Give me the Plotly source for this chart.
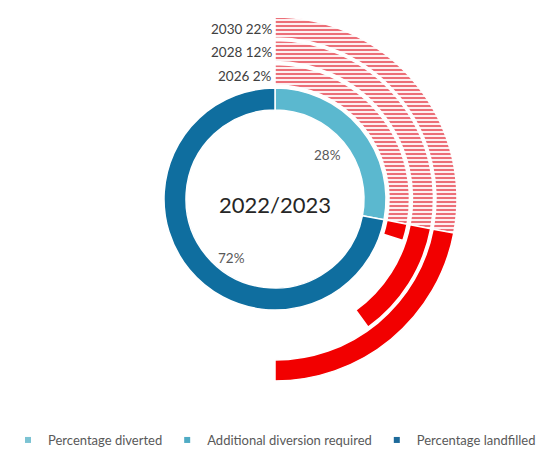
import plotly.graph_objects as go

# Diversion data (percent of waste)
base_year = "2022/2023"
pct_diverted = 28
pct_landfilled = 72
target_years = ["2026", "2028", "2030"]
additional_required = [2, 12, 22]
legend_labels = ["Percentage diverted", "Additional diversion required", "Percentage landfilled"]

W, H = 549, 456
CX, CY = 275, 199  # doughnut centre in px
# (inner, outer) radius in px for the base ring and each target ring
rings = [(89, 111), (114, 134.5), (137.5, 158.5), (161, 182)]

C_DIVERTED = "#5bb8cf"
C_LANDFILL = "#0f6e9f"
C_RED = "#f20000"
TXT = "#595959"
FONT = "Lato"


def domain_for(r_out):
    return dict(
        x=[(CX - r_out) / W, (CX + r_out) / W],
        y=[1 - (CY + r_out) / H, 1 - (CY - r_out) / H],
    )


fig = go.Figure()

# base year ring
r_in, r_out = rings[0]
fig.add_trace(go.Pie(
    values=[pct_diverted, pct_landfilled],
    labels=[legend_labels[0], legend_labels[2]],
    domain=domain_for(r_out), hole=r_in / r_out,
    sort=False, direction="clockwise", rotation=0,
    marker=dict(colors=[C_DIVERTED, C_LANDFILL], line=dict(color="white", width=1.5)),
    textinfo="none", hoverinfo="label+percent", showlegend=False,
))

# target rings: current diversion (hatched), extra required (solid), remainder blank
for i, (yr, add) in enumerate(zip(target_years, additional_required)):
    r_in, r_out = rings[i + 1]
    rest = 100 - pct_diverted - add
    fig.add_trace(go.Pie(
        values=[pct_diverted, add, rest],
        labels=["Diverted", "Additional", "Remaining"],
        domain=domain_for(r_out), hole=r_in / r_out,
        sort=False, direction="clockwise", rotation=0,
        marker=dict(
            colors=["#fdeff0", C_RED, "rgba(0,0,0,0)"],
            line=dict(color="white", width=[1.5, 1.5, 0]),
            pattern=dict(shape=["-", "", ""], fgcolor=["#ea606a", C_RED, "rgba(0,0,0,0)"],
                         bgcolor=["#fdf0f1", C_RED, "rgba(0,0,0,0)"],
                         size=4, solidity=0.45),
        ),
        textinfo="none", hoverinfo="skip", showlegend=False, name=yr,
    ))
    mid = (r_in + r_out) / 2
    fig.add_annotation(
        x=CX / W, y=1 - (CY - mid + 1) / H, xref="paper", yref="paper",
        text=f"{yr} {add}%", showarrow=False, xanchor="right", yanchor="middle",
        xshift=-1, font=dict(family=FONT, size=13.5, color="#404040"),
    )

# centre title and base-ring labels
fig.add_annotation(x=CX / W, y=1 - (CY + 5) / H, xref="paper", yref="paper",
                   text=base_year, showarrow=False,
                   font=dict(family=FONT, size=22, color="#262626"))
fig.add_annotation(x=327 / W, y=1 - 155 / H, xref="paper", yref="paper",
                   text=f"{pct_diverted}%", showarrow=False,
                   font=dict(family=FONT, size=13.5, color=TXT))
fig.add_annotation(x=231 / W, y=1 - 258 / H, xref="paper", yref="paper",
                   text=f"{pct_landfilled}%", showarrow=False,
                   font=dict(family=FONT, size=13.5, color=TXT))

# legend entries
for lab, col in zip(legend_labels, ["#7cc3d3", "#4fabc4", "#1d6a9a"]):
    fig.add_trace(go.Scatter(x=[None], y=[None], mode="markers", name=lab,
                             marker=dict(symbol="square", size=6, color=col)))

fig.update_layout(
    width=W, height=H, margin=dict(l=0, r=0, t=0, b=0),
    paper_bgcolor="white", plot_bgcolor="white",
    xaxis=dict(visible=False), yaxis=dict(visible=False),
    legend=dict(orientation="h", x=0.5, xanchor="center", y=1 - 440 / H, yanchor="middle",
                font=dict(family=FONT, size=13, color=TXT), itemwidth=30,
                tracegroupgap=0),
)

fig.write_html("out.html")
